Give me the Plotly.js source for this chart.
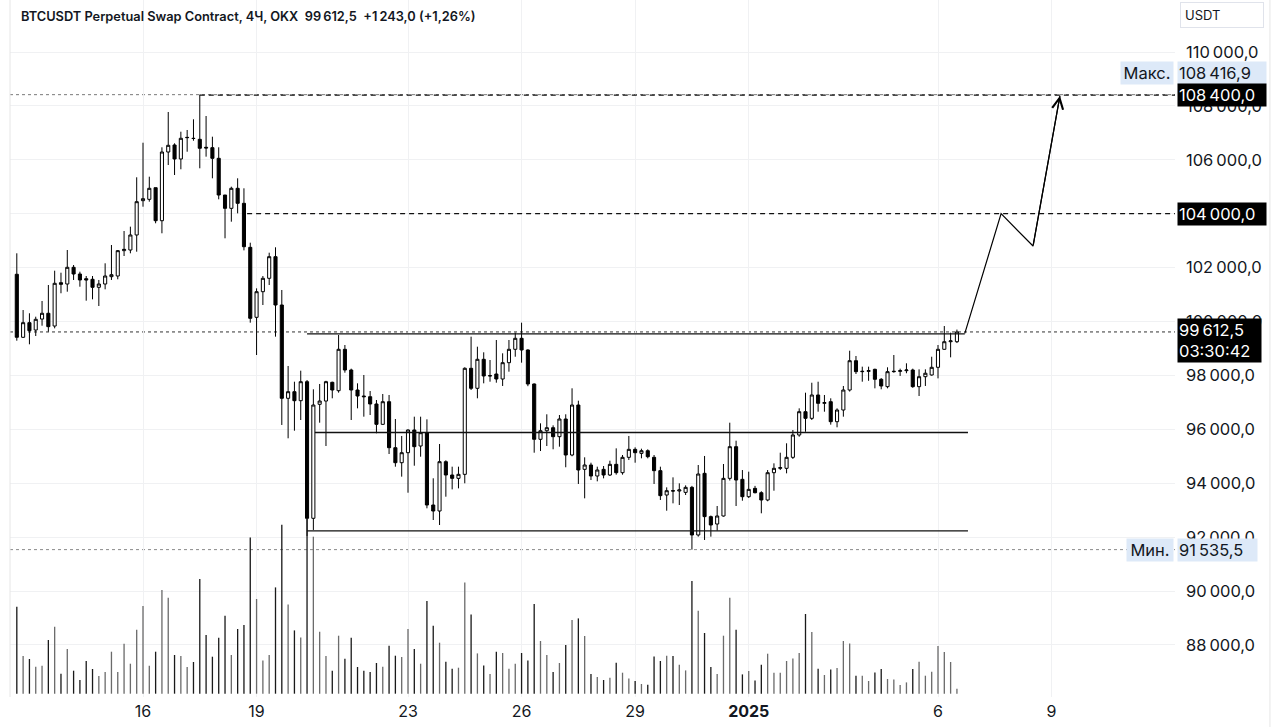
<!DOCTYPE html>
<html>
<head>
<meta charset="utf-8">
<script src="https://cdn.plot.ly/plotly-3.0.1.min.js"></script>
<style>html,body{margin:0;padding:0;background:#fff;}#chart{width:1280px;height:727px;}</style>
</head>
<body>
<div id="chart"></div>
<script>
// ---- data (4H candles, OKX BTCUSDT perpetual) ----
const firstCandle = Date.UTC(2024, 11, 12, 16, 0); // open time of first candle
const candleStepMs = 4 * 3600 * 1000;

const opens = [101752,99414,99956,99684,100091,100305,99832,101440,101391,102011,
101762,101588,101566,101269,101391,101663,101688,102628,102653,103210,
104483,104533,104965,103740,106289,106550,106030,106820,106798,106760,
106464,106450,106055,104694,104199,104942,104385,102752,100155,101106,
101603,102405,100612,97150,97395,97061,97766,92697,96927,97049,
97744,97432,98968,98200,97458,97235,97210,96939,96184,97024,
95317,94761,95132,95974,95380,95875,93191,92968,94798,94304,
94180,94329,98263,97521,98597,97978,98052,97866,98472,98968,
99376,98943,97681,95629,95947,96059,95726,96382,95046,96901,
94514,94675,94267,94514,94304,94700,94390,94960,95256,95107,
95205,94960,94465,93562,93722,93710,93660,93846,92078,94366,
92759,92486,92783,94180,95355,94143,93499,93808,93647,93377,
94390,94552,94552,94960,95789,96653,96407,97273,96963,97024,
96282,96716,97458,98545,98138,98150,98225,97855,97582,98138,
98150,98175,98200,97582,97952,98015,98300,98968,99250,99250];

const highs = [102530,100426,100305,100178,100761,101354,101885,101811,102653,102096,
101848,101688,101688,101541,102159,102838,102653,103358,103519,105351,
106634,105373,104965,106464,107774,106612,107043,107106,107503,108416.9,
107625,106857,106464,104694,105002,105313,104942,102924,101230,101688,
102553,102753,101169,98349,97766,98175,97829,97484,97681,97800,
97766,99499,99128,98250,97706,98015,97421,97087,97310,97273,
96382,95752,96000,96468,96468,96370,94182,95454,94850,94613,
94613,98300,99437,99065,98857,98571,99313,98820,99313,99585,
99956,98968,97700,96221,96556,96147,96530,96556,97521,97061,
94960,94761,94613,94637,94835,95293,95046,95752,95330,95280,
95256,95046,94613,93846,94217,93995,93920,93900,94675,95010,
92800,93154,94712,96245,95577,94489,94428,93900,93700,94489,
94737,95132,95480,95974,96778,97358,97728,97766,97273,97150,
96778,97607,98916,98720,98324,98324,98250,97900,98300,98757,
98250,98449,98250,98225,98225,98693,99128,99832,99585,99700];

const lows = [99288,99388,99154,99462,99844,99622,99746,101047,101106,101541,
101291,100772,100823,100575,101194,101541,101566,102430,102530,102590,
104260,104446,103644,103273,105807,105436,105648,106300,106708,105685,
106116,105313,104534,103087,103703,104013,102640,99956,98757,100612,
101354,99437,96160,95666,95948,96345,92041,92264,96245,95380,
97150,97360,98101,96345,96778,96468,96530,95852,96172,95083,
94612,94242,93647,94649,94983,93068,92634,92449,93499,93771,
93808,93996,97458,97150,97706,97766,97729,97607,98138,98693,
98472,97600,95132,95194,95380,95258,95355,94591,95000,93971,
93438,94118,94069,94180,94267,94316,94316,94860,94761,94923,
94923,93971,93377,92979,93253,93191,93562,91535.5,92016,91893,
92016,92239,92760,94100,93154,93350,93450,93623,92883,93330,
93722,94489,94366,94900,95724,95909,96345,96653,96653,96172,
96074,96468,97400,98052,97766,97800,97520,97484,97520,98100,
97980,98080,97540,97235,97607,97990,97890,98950,98670,99200];

const closes = [99414,99956,99659,100081,100305,99808,101417,101380,102011,101762,
101541,101541,101269,101391,101688,101737,102628,102678,103210,104446,
104557,104942,103740,106289,106538,106030,106798,106830,106790,106427,
106440,106055,104694,104199,104942,104385,102776,100118,101106,101603,
102405,100612,97150,97395,97061,97766,92697,96901,97049,97766,
97458,98968,98200,97458,97235,97210,96939,96184,97024,95317,
94761,95132,95974,95355,95875,93191,92968,94798,94304,94180,
94329,98263,97521,98597,97978,97990,97866,98472,98968,99376,
98943,97681,95629,95947,96059,95726,96382,95046,96901,94490,
94675,94267,94490,94304,94700,94390,94960,95256,95132,95205,
94983,94465,93537,93722,93710,93750,93846,92078,94341,92759,
92449,92783,94180,95355,94118,93499,93771,93647,93377,94390,
94552,94577,94960,95789,96653,96407,97273,96963,96990,96282,
96716,97458,98545,98138,98150,98175,97855,97607,98138,98150,
98175,98200,97582,97952,98080,98300,98968,99250,99280,99612.5];

// volume (arbitrary units)
const volumes = [87,37.7,34.7,27,28,53.7,67,20,44.7,23,
13.7,32.7,24.7,17.7,21.7,42,21.7,50,30,64,
87.7,28,42,103.7,96,38.7,37.7,26.7,31.7,114.7,
58.7,37,56,78,38.7,64.7,68.7,156.3,94.7,33.3,
38.7,106.3,169,89.3,63.3,56.3,175,157,62,37.7,
23,58,35,56,26.7,23,21.7,30.7,27,48,
38,36.7,64.7,44.7,30,92.7,68,51,32,25,
26,111.3,79.3,40.3,28.3,19.7,42,40.7,25,30,
40.7,33.3,89.7,52.7,38.7,21.7,30.7,48.7,73.7,75.3,
57.7,19.7,16.7,13.7,16,31,21,15.3,12.7,9.7,
9,37.3,32.7,38,37.7,29,23.3,112.7,83,60.7,
26.7,19.7,58,96,64,19.3,22.7,13.3,29,40,
21,21,32.7,35.3,40.7,79.7,61.7,25,18.7,24.3,
25.7,52.7,50.3,18,18,12.7,21.3,24.7,14.7,14.3,
8.7,11.3,24.7,32,18,22,47.7,41.7,31.7,5];

// drawn levels
const rangeLevels = [99540, 95880, 92230];
const rangeStarts = ['2024-12-20 08:00', '2024-12-20 13:00', '2024-12-20 08:00'];
const rangeEnds   = ['2025-01-06 17:00', '2025-01-06 19:00', '2025-01-06 19:00'];
const targetLevels = [108400, 104000];
const targetStarts = ['2024-12-17 12:00', '2024-12-18 18:00'];
const maxPrice = 108416.9, minPrice = 91535.5, lastPrice = 99612.5;
const countdown = '03:30:42';

// projection path
const projX = ['2025-01-06 17:00', '2025-01-07 16:00', '2025-01-08 12:15', '2025-01-09 05:20'];
const projY = [99560, 104000, 102800, 108380];

// axes
const xTickVals = ['2024-12-16', '2024-12-19', '2024-12-23', '2024-12-26', '2024-12-29', '2025-01-01', '2025-01-06', '2025-01-09'];
const xTickText = ['16', '19', '23', '26', '29', '<b>2025</b>', '6', '9'];
const yTickVals = [88000, 90000, 92000, 94000, 96000, 98000, 100000, 102000, 104000, 106000, 108000, 110000];
const yTickText = ['88\u2009000,0', '90\u2009000,0', '92\u2009000,0', '94\u2009000,0', '96\u2009000,0', '98\u2009000,0', '100\u2009000,0', '102\u2009000,0', '104\u2009000,0', '106\u2009000,0', '108\u2009000,0', '110\u2009000,0'];

const titleText = 'BTCUSDT Perpetual Swap Contract, 4Ч, OKX  99\u2009612,5  +1\u2009243,0 (+1,26%)';

// ---- build ----
function fmt(ms) {
  const d = new Date(ms);
  const p = n => String(n).padStart(2, '0');
  return d.getUTCFullYear() + '-' + p(d.getUTCMonth() + 1) + '-' + p(d.getUTCDate()) + ' ' + p(d.getUTCHours()) + ':' + p(d.getUTCMinutes());
}
const times = opens.map((_, i) => fmt(firstCandle + i * candleStepMs));
const volColors = opens.map((o, i) => closes[i] >= o ? '#6b6b6b' : '#1a1a1a');

const FONT = 'Inter, "Noto Sans", "DejaVu Sans", sans-serif';
const TXT = '#131722';
const AXF = 16.5;

const traces = [
  {
    type: 'bar', x: times, y: volumes, yaxis: 'y2', width: 3.0e6,
    marker: {color: volColors, line: {width: 0}}, hoverinfo: 'skip', showlegend: false
  },
  {
    type: 'candlestick', x: times, open: opens, high: highs, low: lows, close: closes,
    increasing: {line: {color: '#000', width: 1}, fillcolor: '#ffffff'},
    decreasing: {line: {color: '#000', width: 1}, fillcolor: '#000000'},
    whiskerwidth: 0, hoverinfo: 'skip', showlegend: false
  },
  {
    type: 'scatter', mode: 'lines', x: projX, y: projY,
    line: {color: '#000', width: 1.2}, hoverinfo: 'skip', showlegend: false
  }
];

const xStart = '2024-12-12 11:41', xEnd = '2025-01-12 06:15';
const shapes = [];
// full-width dotted lines (max, last, min)
[[maxPrice, '#7a7a7a'], [lastPrice, '#333333'], [minPrice, '#8a8a8a']].forEach(([p, c]) => {
  shapes.push({type: 'line', xref: 'x', yref: 'y', x0: xStart, x1: xEnd, y0: p, y1: p,
    line: {color: c, width: 1, dash: 'dot'}, layer: 'below'});
});
targetLevels.forEach((p, i) => {
  shapes.push({type: 'line', xref: 'x', yref: 'y', x0: targetStarts[i], x1: xEnd, y0: p, y1: p,
    line: {color: '#111', width: 1.2, dash: '5px,4px'}});
});
rangeLevels.forEach((p, i) => {
  shapes.push({type: 'line', xref: 'x', yref: 'y', x0: rangeStarts[i], x1: rangeEnds[i], y0: p, y1: p,
    line: {color: '#111', width: 1.4}});
});
// pane borders
shapes.push({type: 'line', xref: 'paper', yref: 'paper', x0: 0, x1: 0, y0: 0, y1: 1, line: {color: '#e6e6e6', width: 1}});
shapes.push({type: 'line', xref: 'paper', yref: 'paper', x0: 1.0815, x1: 1.0815, y0: -0.05, y1: 1, line: {color: '#e6e6e6', width: 1}});

const LIGHT = '#dde9f8';
function priceLabel(text, y, opts) {
  return Object.assign({
    xref: 'paper', yref: 'y', x: 1.0017, y: y, xanchor: 'left', yanchor: 'middle',
    text: text, showarrow: false, bgcolor: '#000', borderpad: 1, width: 86, align: 'left',
    font: {family: FONT, size: AXF, color: '#fff'}
  }, opts || {});
}
const annotations = [
  {xref: 'paper', yref: 'paper', x: 0.0077, y: 0.977, xanchor: 'left', yanchor: 'middle',
   text: titleText, showarrow: false, font: {family: FONT, size: 12.8, color: TXT, weight: 600}},
  {xref: 'paper', yref: 'paper', x: 1.0043, y: 0.9785, xanchor: 'left', yanchor: 'middle',
   text: 'USDT', showarrow: false, bgcolor: '#fff', bordercolor: '#e0e3eb', borderwidth: 1, borderpad: 4,
   width: 74, align: 'left', font: {family: FONT, size: 13, color: TXT}},
  priceLabel('Макс.', maxPrice, {x: 0.9991, xanchor: 'right', yshift: 22, bgcolor: LIGHT, width: 50, align: 'center', font: {family: FONT, size: AXF, color: TXT}}),
  priceLabel('108\u2009416,9', maxPrice, {yshift: 22, bgcolor: LIGHT, font: {family: FONT, size: AXF, color: TXT}}),
  priceLabel('108\u2009400,0', targetLevels[0]),
  priceLabel('104\u2009000,0', targetLevels[1]),
  priceLabel('99\u2009612,5<br>' + countdown, lastPrice, {yshift: -9, width: 81}),
  priceLabel('Мин.', minPrice, {x: 0.9991, xanchor: 'right', bgcolor: LIGHT, width: 44, align: 'center', font: {family: FONT, size: AXF, color: TXT}}),
  priceLabel('91\u2009535,5', minPrice, {bgcolor: LIGHT, width: 77, font: {family: FONT, size: AXF, color: TXT}}),
  {xref: 'x', yref: 'y', axref: 'x', ayref: 'y', x: projX[3], y: projY[3], ax: projX[2], ay: projY[2],
   text: '', showarrow: true, arrowhead: 5, arrowsize: 1.8, arrowwidth: 1.2, arrowcolor: '#000', standoff: 0}
];

const layout = {
  width: 1280, height: 727,
  margin: {l: 10, r: 105, t: 0, b: 30, pad: 0},
  paper_bgcolor: '#fff', plot_bgcolor: '#fff',
  showlegend: false, hovermode: false, dragmode: false,
  font: {family: FONT, color: TXT},
  xaxis: {
    type: 'date', range: [xStart, xEnd], rangeslider: {visible: false},
    tickmode: 'array', tickvals: xTickVals, ticktext: xTickText,
    showgrid: true, gridcolor: '#f0f1f3', gridwidth: 1, zeroline: false, showline: false,
    ticks: '', tickfont: {family: FONT, size: 16, color: TXT}, ticklabelstandoff: 3
  },
  yaxis: {
    range: [86066.6, 111929.5], side: 'right', tickmode: 'array', tickvals: yTickVals, ticktext: yTickText,
    showgrid: true, gridcolor: '#f0f1f3', gridwidth: 1, zeroline: false, showline: false,
    ticks: '', tickfont: {family: FONT, size: AXF, color: TXT}, ticklabelstandoff: 10, fixedrange: true
  },
  yaxis2: {
    overlaying: 'y', range: [-3.3, 693.7], showgrid: false, zeroline: false, showticklabels: false,
    ticks: '', fixedrange: true
  },
  shapes: shapes,
  annotations: annotations,
  boxgap: 0.3
};

Plotly.newPlot('chart', traces, layout, {staticPlot: true, displayModeBar: false});
</script>
</body>
</html>
